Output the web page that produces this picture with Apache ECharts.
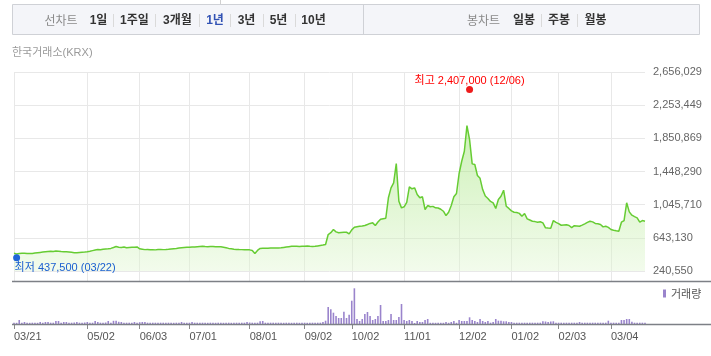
<!DOCTYPE html>
<html><head><meta charset="utf-8">
<script src="https://cdn.jsdelivr.net/npm/echarts@6/dist/echarts.min.js"></script>
<style>html,body{margin:0;padding:0;background:#fff}#c{width:711px;height:356px}</style>
</head><body><div id="c"></div>
<script>
// ---- data ----
const UNIT = 1000;
// daily closing price, thousand won
const PRICE_K = [
 455,448,452,455,456,453,452,453,458,462,
 466,470,474,478,480,478,483,480,476,474,
 473,470,467,463,461,465,468,470,473,480,
 488,495,501,498,505,508,510,515,525,538,
 530,527,532,522,525,528,530,532,510,505,
 500,502,498,500,497,502,503,500,501,504,
 508,512,515,519,522,525,528,530,533,532,
 535,538,540,537,536,538,539,536,535,534,
 528,522,515,510,505,503,501,500,499,498,
 497,490,453,490,514,516,518,517,519,520,
 521,520,522,527,532,536,540,542,540,538,
 541,540,543,540,538,540,545,550,555,562,
 683,705,744,715,704,708,711,711,692,740,
 772,778,784,788,793,805,818,825,793,835,
 870,876,881,1129,1250,1311,1545,1088,1007,1020,
 1075,1262,1238,1250,1169,1129,1141,987,1035,1020,
 1025,1007,1005,990,966,914,954,1035,1141,1181,
 1424,1573,1694,2006,1836,1541,1533,1400,1365,1229,
 1150,1120,1085,1068,1000,1108,1148,1221,1027,1000,
 970,954,950,940,905,938,874,860,845,840,
 833,838,825,765,762,760,853,830,815,796,
 800,801,793,768,790,788,784,798,813,830,
 845,837,818,813,805,776,784,770,744,735,
 728,723,833,853,1068,958,918,900,885,833,
 853,845
];
// daily volume, thousand shares
const VOLUME_K = [
 13,12,40,13,20,13,12,13,13,12,
 20,13,20,20,13,13,30,30,13,20,
 20,13,13,15,20,13,12,15,20,13,
 13,30,20,13,13,15,30,13,32,32,
 22,20,13,13,13,13,20,13,18,20,
 20,13,12,13,13,12,13,13,12,13,
 13,12,13,13,20,13,12,13,20,13,
 13,12,13,13,12,13,13,12,13,13,
 12,13,13,12,13,13,12,13,13,20,
 15,13,13,13,28,30,13,12,13,13,
 12,13,13,12,13,13,12,13,13,12,
 13,13,12,13,13,12,13,13,20,33,
 170,147,113,80,60,60,123,60,93,233,
 357,50,30,50,100,120,80,40,50,80,
 190,30,30,40,100,40,40,70,200,40,
 30,40,30,10,30,20,20,40,50,12,
 12,12,12,12,12,20,12,20,30,12,
 40,30,30,30,67,40,30,20,50,30,
 20,30,13,20,50,33,33,27,27,20,
 20,13,13,13,13,13,13,13,13,13,
 13,13,27,25,20,25,27,13,13,13,
 13,13,13,13,13,13,20,13,13,13,
 13,13,13,13,13,13,13,33,13,13,
 13,13,40,40,50,50,23,13,13,13,
 13,13
];
const Y_TICK_LABELS = ['240,550','643,130','1,045,710','1,448,290','1,850,869','2,253,449','2,656,029'];
const X_TICK_DATES = ['2024-03-21','2024-05-02','2024-06-03','2024-07-01','2024-08-01','2024-09-02',
 '2024-10-02','2024-11-01','2024-12-02','2025-01-02','2025-02-03','2025-03-04'];
const Y_BASE = 240550, Y_TOP = 2656029;
const HIGH = {date:'2024-12-06', value:2407000, label:'최고 2,407,000 (12/06)'};
const LOW  = {date:'2024-03-22', value:437500,  label:'최저 437,500 (03/22)'};
const START_DATE = [2024, 2, 21];
const HOLIDAYS = ['2024-04-10','2024-05-01','2024-05-06','2024-05-15','2024-06-06','2024-08-15',
 '2024-09-16','2024-09-17','2024-09-18','2024-10-01','2024-10-03','2024-10-09','2024-12-25','2024-12-31',
 '2025-01-01','2025-01-27','2025-01-28','2025-01-29','2025-01-30','2025-03-03'];
const PERIOD_TABS = ['1일','1주일','3개월','1년','3년','5년','10년'];
const CANDLE_TABS = ['일봉','주봉','월봉'];

// ---- trading-day categories ----
const CATS = [];
{
  let d = new Date(Date.UTC(START_DATE[0], START_DATE[1], START_DATE[2]));
  while (CATS.length < PRICE_K.length) {
    const s = d.toISOString().slice(0,10);
    const wd = d.getUTCDay();
    if (wd !== 0 && wd !== 6 && HOLIDAYS.indexOf(s) < 0) CATS.push(s);
    d = new Date(d.getTime() + 86400000);
  }
}
const isTick = (i) => X_TICK_DATES.indexOf(CATS[i]) >= 0;
const fmtDate = (v) => v.slice(5).replace('-', '/');

const STEP = (Y_TOP - Y_BASE) / 6;
const FONT = "'Liberation Sans', 'Noto Sans CJK KR', sans-serif";
const KFONT = "'Noto Sans CJK KR', 'Liberation Sans', sans-serif";

// ---- decorations ----
const graphics = [];
graphics.push({type:'line', shape:{x1:220.5,y1:0,x2:220.5,y2:4}, style:{stroke:'#d0d0d0',lineWidth:1}, silent:true});
graphics.push({type:'rect', shape:{x:12.5,y:4.5,width:687,height:30}, style:{fill:'#f4f5f9',stroke:'#cfd1d6',lineWidth:1}, silent:true});
graphics.push({type:'line', shape:{x1:363.5,y1:4.5,x2:363.5,y2:34.5}, style:{stroke:'#cfd1d6',lineWidth:1}, silent:true});
function txt(t, x, y, color, font, align) {
  graphics.push({type:'text', x:x, y:y, silent:true,
    style:{text:t, fill:color, font:font, align:align||'center', verticalAlign:'middle',
           textAlign:align||'center', textVerticalAlign:'middle'}});
}
function sep(x) {
  graphics.push({type:'line', shape:{x1:x+0.5,y1:14,x2:x+0.5,y2:27}, style:{stroke:'#dadada',lineWidth:1}, silent:true});
}
txt('선차트', 61, 20.5, '#8a8a8a', '12px ' + KFONT);
const pCenters = [98.5,134.5,177.5,215,246.5,278.5,313.5];
PERIOD_TABS.forEach((t,i)=>txt(t, pCenters[i], 20.5, t==='1년' ? '#3152b4' : '#333', 'bold 12px ' + FONT));
[113,155,199,230,263,295].forEach(sep);
txt('봉차트', 483.5, 20.5, '#8a8a8a', '12px ' + KFONT);
const cCenters = [524,559,595.5];
CANDLE_TABS.forEach((t,i)=>txt(t, cCenters[i], 20.5, '#333', 'bold 12px ' + FONT));
[541,577].forEach(sep);
txt('한국거래소(KRX)', 12, 53, '#9a9a9a', '11px ' + FONT, 'left');
graphics.push({type:'line', z:50, shape:{x1:12,y1:281.5,x2:711,y2:281.5}, style:{stroke:'#7d8086',lineWidth:1.5}, silent:true});
graphics.push({type:'line', z:50, shape:{x1:12,y1:324.5,x2:711,y2:324.5}, style:{stroke:'#7d8086',lineWidth:1.5}, silent:true});

const vSplit = {show:true, interval:(i)=>isTick(i), lineStyle:{color:'#e8e8e8', width:1}};

const chart = echarts.init(document.getElementById('c'), null, {renderer:'canvas'});
chart.setOption({
  animation:false,
  backgroundColor:'#fff',
  graphic: graphics,
  legend: {data:['거래량'], left:663, top:288, icon:'rect', itemWidth:3, itemHeight:8, padding:0,
           textStyle:{fontSize:11, color:'#555', fontFamily:KFONT}, selectedMode:false},
  grid: [
    {left:14, top:72, width:631, height:199},
    {left:14, top:282, width:631, height:42},
    {left:14, top:271, width:631, height:10}
  ],
  xAxis: [
    {gridIndex:0, type:'category', data:CATS, boundaryGap:false,
     axisLine:{show:false}, axisTick:{show:false}, axisLabel:{show:false}, splitLine:vSplit},
    {gridIndex:1, type:'category', data:CATS, boundaryGap:false,
     axisLine:{show:false},
     axisTick:{show:true, interval:(i)=>isTick(i), length:5, lineStyle:{color:'#8a8a8a'}},
     axisLabel:{interval:(i)=>isTick(i), formatter:fmtDate, align:'left', margin:7, showMinLabel:true,
                color:'#555', fontSize:11, fontFamily:FONT},
     splitLine:{show:false}},
    {gridIndex:2, type:'category', data:CATS, boundaryGap:false,
     axisLine:{show:false}, axisTick:{show:false}, axisLabel:{show:false}, splitLine:vSplit}
  ],
  yAxis: [
    {gridIndex:0, type:'value', position:'right', min:0, max:STEP*6, interval:STEP,
     axisLine:{show:false}, axisTick:{show:false},
     splitLine:{lineStyle:{color:'#e8e8e8', width:1}},
     axisLabel:{margin:8, color:'#666', fontSize:11, fontFamily:FONT,
       formatter:(v)=>{const k=Math.round(v/STEP); return (k>=0 && k<Y_TICK_LABELS.length) ? Y_TICK_LABELS[k] : '';}}},
    {gridIndex:1, type:'value', min:0, max:420*UNIT, show:false, splitLine:{show:false}},
    {gridIndex:2, type:'value', min:0, max:1, show:false, splitLine:{show:false}}
  ],
  series: [
    {name:'가격', type:'line', xAxisIndex:0, yAxisIndex:0, data:PRICE_K.map(v=>v*UNIT - Y_BASE),
     symbol:'none', smooth:false, lineStyle:{color:'#66cc33', width:1.5},
     areaStyle:{origin:'start', color:new echarts.graphic.LinearGradient(0,0,0,1,[
       {offset:0,color:'rgba(140,222,90,0.62)'},{offset:1,color:'rgba(225,246,210,0.6)'}])},
     markPoint:{animation:false, silent:true, data:[
       {coord:[HIGH.date, HIGH.value - Y_BASE], symbol:'circle', symbolSize:7, symbolOffset:[0,-3],
        itemStyle:{color:'#ee1c1c'},
        label:{show:true, position:'top', distance:0, formatter:HIGH.label, color:'#ff0000', fontSize:11, fontFamily:FONT}},
       {coord:[LOW.date, LOW.value - Y_BASE], symbol:'circle', symbolSize:7, symbolOffset:[0,3],
        itemStyle:{color:'#1f64d8'},
        label:{show:true, position:[1.5,8.5], formatter:LOW.label, color:'#1a5fd0', fontSize:11, fontFamily:FONT}}
     ]}},
    {name:'거래량', type:'bar', xAxisIndex:1, yAxisIndex:1, data:VOLUME_K.map(v=>v*UNIT),
     barWidth:1.6, itemStyle:{color:'#9a84cc'}}
  ]
});
</script></body></html>
